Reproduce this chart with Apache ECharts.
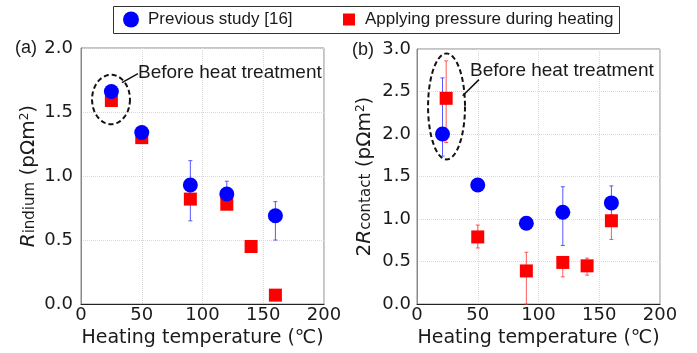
<!DOCTYPE html>
<html><head><meta charset="utf-8">
<script src="https://cdn.jsdelivr.net/npm/echarts@6/dist/echarts.min.js"></script>
<style>html,body{margin:0;padding:0;background:#fff;}#c{width:697px;height:353px;}</style>
</head><body><div id="c"></div>
<script>
// ---------- data ----------
const seriesNames = ['Previous study [16]', 'Applying pressure during heating'];
const xTickStep = 50;
// (a) R_indium
const prevX_a  = [25, 50, 90, 120, 160];
const prevY_a  = [1.66, 1.34, 0.93, 0.86, 0.69];
const prevLo_a = [null, null, 0.65, 0.75, 0.50];
const prevHi_a = [null, null, 1.12, 0.96, 0.80];
const presX_a  = [25, 50, 90, 120, 140, 160];
const presY_a  = [1.59, 1.30, 0.82, 0.78, 0.45, 0.07];
// (b) 2R_contact
const prevX_b  = [21, 50, 90, 120, 160];
const prevY_b  = [2.00, 1.40, 0.95, 1.08, 1.19];
const prevLo_b = [1.74, null, null, 0.69, 1.01];
const prevHi_b = [2.66, null, null, 1.38, 1.39];
const presX_b  = [24, 50, 90, 120, 140, 160];
const presY_b  = [2.42, 0.79, 0.39, 0.49, 0.45, 0.98];
const presLo_b = [1.90, 0.66, 0.00, 0.32, 0.34, 0.76];
const presHi_b = [2.86, 0.93, 0.61, 0.55, 0.54, 1.05];

// ---------- helpers ----------
const pts = (xs, ys) => xs.map((x, i) => [x, ys[i]]);
const errs = (xs, lo, hi) => xs.map((x, i) => [x, lo[i], hi[i]]).filter(d => d[1] != null);
const BLUE = '#0000ff', RED = '#ff0000';
const TXT = '#1a1a1a';
const axisFont = 'DejaVu Sans';

function errRender(color) {
  return function (params, api) {
    const x = api.value(0), lo = api.value(1), hi = api.value(2);
    const a = api.coord([x, hi]), b = api.coord([x, lo]);
    const c = 2;
    const st = { stroke: color, lineWidth: 1 };
    return { type: 'group', children: [
      { type: 'line', shape: { x1: a[0], y1: a[1], x2: b[0], y2: b[1] }, style: st },
      { type: 'line', shape: { x1: a[0] - c, y1: a[1], x2: a[0] + c, y2: a[1] }, style: st },
      { type: 'line', shape: { x1: b[0] - c, y1: b[1], x2: b[0] + c, y2: b[1] }, style: st }
    ]};
  };
}

function xAx(gi) {
  return {
    type: 'value', gridIndex: gi, min: 0, max: 200, interval: xTickStep,
    name: 'Heating temperature (\u2103)', nameLocation: 'middle', nameGap: gi === 0 ? 22 : 20,
    nameTextStyle: { fontFamily: axisFont, fontSize: 19, color: TXT },
    axisLine: { show: true, lineStyle: { color: '#222', width: 1 } },
    axisTick: { show: false },
    axisLabel: { fontFamily: axisFont, fontSize: 18, color: TXT, margin: 2 },
    splitLine: { show: true, lineStyle: { color: '#d8d8d8', type: 'dotted', width: 1 } }
  };
}
function yAx(gi, max, name, gap, margin) {
  return {
    type: 'value', gridIndex: gi, min: 0, max: max, interval: 0.5,
    name: name, nameLocation: 'middle', nameRotate: 90, nameGap: gap,
    nameTextStyle: {
      fontFamily: axisFont, fontSize: 20, color: TXT,
      rich: {
        i: { fontFamily: axisFont, fontSize: 20, fontStyle: 'italic', color: TXT, verticalAlign: 'bottom' },
        n: { fontFamily: axisFont, fontSize: 20, color: TXT, verticalAlign: 'bottom' },
        s: { fontFamily: axisFont, fontSize: 15, color: TXT, verticalAlign: 'bottom', padding: [0, 0, 1, 0] },
        sup: { fontFamily: axisFont, fontSize: 12, color: TXT, verticalAlign: 'top' }
      }
    },
    axisLine: { show: true, lineStyle: { color: '#888', width: 1 } },
    axisTick: { show: false },
    axisLabel: { fontFamily: axisFont, fontSize: 18, color: TXT, margin: margin, formatter: v => v.toFixed(1) },
    splitLine: { show: true, lineStyle: { color: '#d8d8d8', type: 'dotted', width: 1 } }
  };
}

const chart = echarts.init(document.getElementById('c'), null, { renderer: 'canvas' });
const option = {
  backgroundColor: '#fff',
  animation: false,
  grid: [
    { left: 81, top: 48, width: 243, height: 259, show: true, borderColor: '#888', borderWidth: 1, containLabel: false },
    { left: 417, top: 49, width: 243, height: 260, show: true, borderColor: '#888', borderWidth: 1, containLabel: false }
  ],
  legend: [
    { data: [{ name: seriesNames[0], icon: 'circle' }], left: 123, top: 11, padding: 0, itemWidth: 16, itemHeight: 16,
      selectedMode: false, textStyle: { fontFamily: 'Liberation Sans', fontSize: 17, color: TXT, padding: [0, 0, 0, 4] } },
    { data: [{ name: seriesNames[1], icon: 'rect' }], left: 343, top: 11, padding: 0, itemWidth: 12, itemHeight: 12,
      selectedMode: false, textStyle: { fontFamily: 'Liberation Sans', fontSize: 17, color: TXT, padding: [0, 0, 0, 5] } }
  ],
  xAxis: [xAx(0), xAx(1)],
  yAxis: [
    yAx(0, 2.0, '{i|R}{s|indium}{n| (p\u03A9m}{sup|2}{n|)}', 42, 8),
    yAx(1, 3.0, '{n|2}{i|R}{s|contact}{n| (p\u03A9m}{sup|2}{n|)}', 42, 6)
  ],
  series: [
    { type: 'custom', xAxisIndex: 0, yAxisIndex: 0, z: 1, renderItem: errRender('rgba(60,60,255,0.85)'),
      encode: { x: 0, y: [1, 2] }, data: errs(prevX_a, prevLo_a, prevHi_a), silent: true },
    { type: 'custom', xAxisIndex: 1, yAxisIndex: 1, z: 1, renderItem: errRender('rgba(60,60,255,0.85)'),
      encode: { x: 0, y: [1, 2] }, data: errs(prevX_b, prevLo_b, prevHi_b), silent: true },
    { type: 'custom', xAxisIndex: 1, yAxisIndex: 1, z: 1, renderItem: errRender('rgba(255,60,60,0.85)'),
      encode: { x: 0, y: [1, 2] }, data: errs(presX_b, presLo_b, presHi_b), silent: true },
    { name: seriesNames[1], type: 'scatter', xAxisIndex: 0, yAxisIndex: 0, z: 2, symbol: 'rect', symbolSize: 13,
      itemStyle: { color: RED, opacity: 1 }, data: pts(presX_a, presY_a), silent: true },
    { name: seriesNames[1], type: 'scatter', xAxisIndex: 1, yAxisIndex: 1, z: 2, symbol: 'rect', symbolSize: 13,
      itemStyle: { color: RED, opacity: 1 }, data: pts(presX_b, presY_b), silent: true },
    { name: seriesNames[0], type: 'scatter', xAxisIndex: 0, yAxisIndex: 0, z: 3, symbol: 'circle', symbolSize: 15,
      itemStyle: { color: BLUE, opacity: 1 }, data: pts(prevX_a, prevY_a), silent: true },
    { name: seriesNames[0], type: 'scatter', xAxisIndex: 1, yAxisIndex: 1, z: 3, symbol: 'circle', symbolSize: 15,
      itemStyle: { color: BLUE, opacity: 1 }, data: pts(prevX_b, prevY_b), silent: true }
  ]
};
chart.setOption(option);

// ---------- annotations (in data units, converted to pixels) ----------
const annotLabel = 'Before heat treatment';
const annots = [
  { grid: 0, ell: [24.7, 1.598, 15.6, 0.193], line: [[33.7, 1.73], [46.9, 1.80]], text: [46.9, 1.81] },
  { grid: 1, ell: [24.3, 2.324, 15.2, 0.623], line: [[37.6, 2.45], [51.0, 2.64]], text: [43.6, 2.74] }
];
const gfx = [];
annots.forEach(a => {
  const f = p => chart.convertToPixel({ gridIndex: a.grid }, p);
  const c = f([a.ell[0], a.ell[1]]);
  const e = f([a.ell[0] + a.ell[2], a.ell[1] + a.ell[3]]);
  const rx = Math.abs(e[0] - c[0]), ry = Math.abs(e[1] - c[1]);
  const poly = [];
  for (let k = 0; k < 96; k++) {
    const t = k / 96 * Math.PI * 2;
    poly.push([c[0] + rx * Math.cos(t), c[1] + ry * Math.sin(t)]);
  }
  gfx.push({ type: 'polygon', z: 10, silent: true, shape: { points: poly },
    style: { fill: 'none', stroke: '#111', lineWidth: 2, lineDash: [5, 3] } });
  const p1 = f(a.line[0]), p2 = f(a.line[1]);
  gfx.push({ type: 'line', z: 10, silent: true, shape: { x1: p1[0], y1: p1[1], x2: p2[0], y2: p2[1] },
    style: { stroke: '#111', lineWidth: 1.5 } });
  const tp = f(a.text);
  gfx.push({ type: 'text', z: 10, silent: true, x: tp[0], y: tp[1],
    style: { text: annotLabel, font: '19px "Liberation Sans"', fill: TXT, align: 'left', verticalAlign: 'middle' } });
});
gfx.push({ type: 'text', silent: true, x: 15, y: 48,
  style: { text: '(a)', font: '18px "Liberation Sans"', fill: TXT, align: 'left', verticalAlign: 'middle' } });
gfx.push({ type: 'text', silent: true, x: 352, y: 50,
  style: { text: '(b)', font: '18px "Liberation Sans"', fill: TXT, align: 'left', verticalAlign: 'middle' } });
gfx.push({ type: 'rect', silent: true, z: 0, shape: { x: 113.5, y: 6.5, width: 506, height: 27 },
  style: { fill: 'none', stroke: '#333', lineWidth: 1 } });
chart.setOption({ graphic: gfx });
</script>
</body></html>
